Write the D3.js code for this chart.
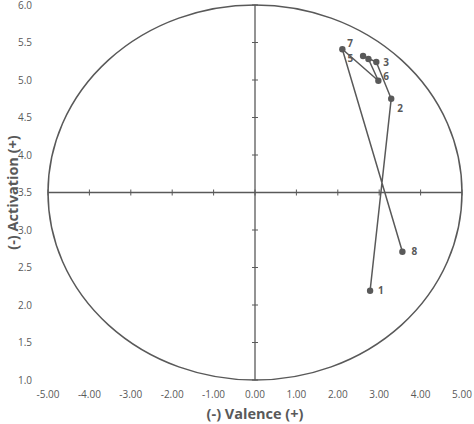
<!DOCTYPE html><html><head><meta charset="utf-8"><script src="https://d3js.org/d3.v7.min.js"></script>
<style>body{margin:0;background:#fff}text{font-family:"Open Sans",sans-serif;fill:#595959}</style></head><body><svg id="c" width="474" height="424"></svg>
<script>
const labels=["1","2","3","4","5","6","7","8"];
const valence=[2.78,3.29,2.93,2.61,2.74,2.98,2.11,3.56];
const activation=[2.19,4.75,5.24,5.32,5.28,4.99,5.41,2.71];
const xTicks=[-5,-4,-3,-2,-1,0,1,2,3,4,5];
const yTicks=[1,1.5,2,2.5,3,3.5,4,4.5,5,5.5,6];
const svg=d3.select("#c"),col="#595959";
const x=d3.scaleLinear().domain([-5,5]).range([48,462]);
const y=d3.scaleLinear().domain([1,6]).range([380,5]);
svg.append("ellipse").attr("cx",x(0)).attr("cy",y(3.5)).attr("rx",x(5)-x(0)).attr("ry",y(1)-y(3.5)).attr("fill","none").attr("stroke",col).attr("stroke-width",1.5);
svg.append("line").attr("x1",x(-5)).attr("x2",x(5)).attr("y1",y(3.5)).attr("y2",y(3.5)).attr("stroke",col).attr("stroke-width",1.3);
svg.append("line").attr("x1",x(0)).attr("x2",x(0)).attr("y1",y(6)).attr("y2",y(1)).attr("stroke",col).attr("stroke-width",1.3);
svg.selectAll(".xt").data(xTicks).join("line").attr("x1",d=>x(d)).attr("x2",d=>x(d)).attr("y1",y(3.5)-3).attr("y2",y(3.5)+3).attr("stroke",col);
svg.selectAll(".yt").data(yTicks).join("line").attr("x1",x(0)-3).attr("x2",x(0)+3).attr("y1",d=>y(d)).attr("y2",d=>y(d)).attr("stroke",col);
svg.selectAll(".xl").data(xTicks).join("text").attr("x",d=>x(d)).attr("y",398).attr("text-anchor","middle").attr("font-size",10).text(d=>d.toFixed(2));
svg.selectAll(".yl").data(yTicks).join("text").attr("x",32).attr("y",d=>y(d)+3.5).attr("text-anchor","end").attr("font-size",10).text(d=>d.toFixed(1));
svg.append("text").attr("x",x(0)).attr("y",419).attr("text-anchor","middle").attr("font-size",14.5).attr("font-weight","bold").text("(-) Valence (+)");
svg.append("text").attr("transform",`translate(18,${y(3.5)}) rotate(-90)`).attr("text-anchor","middle").attr("font-size",14.5).attr("font-weight","bold").text("(-) Activation (+)");
const pts=labels.map((l,i)=>({l,v:valence[i],a:activation[i]}));
svg.append("path").datum(pts).attr("d",d3.line().x(d=>x(d.v)).y(d=>y(d.a))).attr("fill","none").attr("stroke",col).attr("stroke-width",1.5);
svg.selectAll(".p").data(pts).join("circle").attr("cx",d=>x(d.v)).attr("cy",d=>y(d.a)).attr("r",3.2).attr("fill",col);
const off=[[8,3],[6,13],[7,4],[0,0],[-21,3],[5,-1],[5,-2],[9,3]];
svg.selectAll(".pl").data(pts).join("text").filter((d,i)=>i!==3).attr("x",d=>x(d.v)+off[labels.indexOf(d.l)][0]).attr("y",d=>y(d.a)+off[labels.indexOf(d.l)][1]).attr("font-size",10).attr("font-weight","bold").text(d=>d.l);
</script></body></html>
